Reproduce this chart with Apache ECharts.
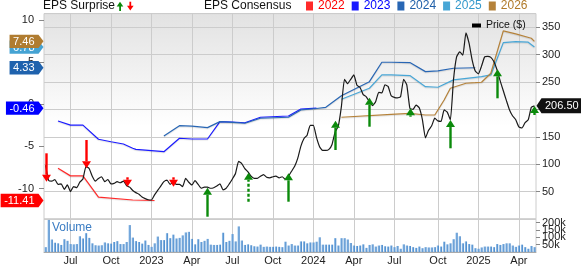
<!DOCTYPE html>
<html><head><meta charset="utf-8">
<script src="https://cdn.jsdelivr.net/npm/echarts@6/dist/echarts.min.js"></script>
<style>html,body{margin:0;padding:0;background:#fff}#c{width:581px;height:266px}</style>
</head><body><div id="c"></div>
<script>
// ---------- data ----------
const startDate = '2022-05-06';
const weekCount = 158;
const quarterDates = ['2022-07-01','2022-10-01','2023-01-01','2023-04-01','2023-07-01','2023-10-01','2024-01-01','2024-04-01','2024-07-01','2024-10-01','2025-01-01','2025-04-01'];
const quarterLabels = ['Jul','Oct','2023','Apr','Jul','Oct','2024','Apr','Jul','Oct','2025','Apr'];

const price = [98,70,69,72,63,64,54,62,50,59,57,67,73,96,92,78,69,74,77,68,
72,64,65,68,66,69,61,58,52,48,45,40,37,35,34.5,44,52,60,68,71,
63,67,63,63,59,74,67,62,70,63,56,58,58,56,57,60,64,53,56,64,
73,83,105,101,92,86,78,74,74,78,81,76,75,77,78,75,77,72,78,87,
96,111,133,147,153,171,171,149,132,125,125,127,136,159,169,205,255,247,255,263,
244,240,227,223,214,207,214,231,230,245,242,225,222,221,223,255,245,202,200,208,
203,182,148,162,170,184,179,178,199,195,181,254,296,305,299,340,321,290,270,265,
279,296,297,295,287,272,252,234,216,199,188,181,168,166,176,181,204,206.5];

const volumeK = [33,218,85,63,59,48,87,76,54,52,54,107,92,128,96,59,46,44,46,65,
59,57,68,74,54,54,68,183,98,74,68,57,78,48,35,59,105,81,81,128,
94,118,92,96,113,133,137,89,52,87,68,76,89,50,48,48,50,131,68,76,
122,72,174,78,48,52,46,39,37,50,35,37,35,35,37,35,33,70,44,54,
44,44,72,72,59,65,65,70,100,50,50,50,50,94,44,94,94,85,61,44,
41,44,52,28,48,52,37,44,48,39,37,44,33,41,22,52,44,41,33,28,
37,26,33,31,31,33,44,37,70,52,59,87,131,107,59,72,54,50,26,22,
31,37,37,37,33,54,48,54,59,59,44,35,44,50,33,22,41,33];

const cons2022Weeks = [4,8,12,17,28,35];
const cons2022 = [-7.59,-8.49,-8.49,-11.0,-11.35,-11.41];
const cons2023Weeks = [4,8,12,17,21,25,28,29,38,43,47,52,56,60,64,69,78,82,87];
const cons2023 = [-1.98,-2.47,-2.47,-4.15,-4.44,-4.71,-5.22,-5.34,-5.62,-4.03,-4.12,-4.12,-2.06,-2.10,-2.19,-1.54,-1.39,-0.56,-0.46];
const cons2024Weeks = [38,43,47,52,56,60,64,69,78,82,87,90,95,104,108,111,117,122,126,131,138];
const cons2024 = [-3.76,-2.54,-2.60,-2.77,-2.06,-2.15,-2.25,-1.66,-1.54,-0.67,-0.50,-0.36,1.0,2.68,4.98,4.98,4.94,3.87,3.95,4.27,4.33];
const cons2025Weeks = [95,104,108,111,117,122,126,131,138,140,143,147,151,155,157];
const cons2025 = [0.59,1.90,3.48,3.48,3.40,2.09,2.02,2.89,3.20,3.27,3.48,7.31,7.43,7.36,6.78];
const cons2026Weeks = [95,111,117,122,125,128,130,135,138,140,143,147,151,156,157];
const cons2026 = [-1.54,-1.19,-1.07,-1.27,-1.27,0.51,1.90,2.49,2.56,2.61,3.68,8.70,8.34,7.83,7.46];

const surpriseWeeks  = [0,13,26,41,52,65,78,93,104,117,130,145,157];
const surpriseFrom   = [119.8,144.1,76,76,4,31.4,31.4,125.8,168.4,186.7,129,220.3,189.8];
const surpriseTo     = [67.9,92.4,58.8,58.8,57,84.4,83.3,179.4,221.4,202,180.6,273.2,206.2];
const surpriseDashed = [0,0,0,0,0,1,0,0,0,0,0,0,0];

const epsTagYears  = ['2022','2023','2024','2025','2026'];
const epsTagValues = [-11.41,-0.46,4.33,6.78,7.46];
const lastPrice = 206.50;

const epsTicks = [-10,-5,0,5,10];

// ---------- styling ----------
const FONT = "'Liberation Sans', Arial, sans-serif";
const yearColors = {'2022':'#ff2a2a','2023':'#1a1aff','2024':'#2866b4','2025':'#48a6d6','2026':'#b5823a'};
const legendColors = {'2022':'#ff0000','2023':'#0000ff','2024':'#1f5fa8','2025':'#3399cc','2026':'#b07a2a'};
const tagColors = {'2022':'#ff0000','2023':'#0000ff','2024':'#1f62ad','2025':'#45a3d3','2026':'#b07c30'};

const DAY = 864e5;
const t0 = Date.parse(startDate + 'T00:00:00Z');
const weeks = [];
for (let i = 0; i < weekCount; i++) weeks.push(new Date(t0 + i * 7 * DAY).toISOString().slice(0, 10));
const labelAt = {};
quarterDates.forEach((d, k) => {
  const idx = Math.round((Date.parse(d + 'T00:00:00Z') - t0) / (7 * DAY));
  labelAt[idx] = quarterLabels[k];
});
const showQ = (i) => labelAt[i] !== undefined;

const ctx = document.createElement('canvas').getContext('2d');
ctx.font = '11px ' + FONT;
const measure = (s) => ctx.measureText(s).width;

const consensus = [
  ['2022', cons2022Weeks, cons2022],
  ['2023', cons2023Weeks, cons2023],
  ['2024', cons2024Weeks, cons2024],
  ['2025', cons2025Weeks, cons2025],
  ['2026', cons2026Weeks, cons2026]
];

const chart = echarts.init(document.getElementById('c'), null, {renderer: 'canvas'});

const xSplit = {show: true, interval: (i) => showQ(i), alignWithLabel: true, lineStyle: {color: '#cccccc', width: 1}};

const series = [];
consensus.forEach(([name, w, v]) => {
  series.push({
    name, type: 'line', xAxisIndex: 0, yAxisIndex: 1,
    data: w.map((wk, k) => [wk, v[k]]),
    showSymbol: false, symbol: 'none', connectNulls: true,
    lineStyle: {color: yearColors[name], width: 1.2, shadowColor: 'rgba(0,0,0,0.12)', shadowOffsetY: 1, shadowBlur: 1},
    itemStyle: {color: yearColors[name]},
    z: 3, silent: true
  });
});
series.push({
  name: 'Price ($)', type: 'line', xAxisIndex: 0, yAxisIndex: 0,
  data: price, showSymbol: false, symbol: 'none', smooth: 0.15,
  lineStyle: {color: '#1a1a1a', width: 1.2},
  itemStyle: {color: '#000'}, z: 4, silent: true
});
series.push({
  name: 'Volume', type: 'bar', xAxisIndex: 1, yAxisIndex: 2,
  data: volumeK.map(v => v * 1000), barWidth: 2.2,
  itemStyle: {color: new echarts.graphic.LinearGradient(0, 0, 1, 0, [{offset: 0, color: '#9ec6ec'}, {offset: 1, color: '#3d80c6'}])},
  silent: true
});
series.push({
  name: 'surprise', type: 'custom', xAxisIndex: 0, yAxisIndex: 0, clip: false, z: 6, silent: true,
  data: surpriseWeeks.map((w, k) => [w, surpriseFrom[k], surpriseTo[k], surpriseDashed[k]]),
  renderItem(params, api) {
    const w = api.value(0), p1 = api.coord([w, api.value(1)]), p2 = api.coord([w, api.value(2)]);
    const up = p2[1] < p1[1];
    const color = up ? '#0b8a0b' : '#ff0000';
    const dir = up ? 1 : -1;
    const x = Math.round(p1[0]) + 0.5;
    const baseY = p2[1] + dir * 7;
    return {type: 'group', children: [
      {type: 'line', shape: {x1: x, y1: p1[1], x2: x, y2: baseY},
       style: {stroke: color, lineWidth: 2.4, lineDash: api.value(3) ? [3, 2] : null}},
      {type: 'polygon', shape: {points: [[x - 4.5, baseY], [x + 4.5, baseY], [x, p2[1]]]}, style: {fill: color}}
    ]};
  }
});
series.push({
  name: 'epsTags', type: 'custom', xAxisIndex: 0, yAxisIndex: 1, clip: false, z: 7, silent: true,
  data: epsTagValues.map((v, k) => [0, v, k]),
  renderItem(params, api) {
    const val = api.value(1);
    const y = api.coord([0, val])[1];
    const txt = val.toFixed(2);
    const w = measure(txt);
    const right = 38.5, tip = 43.5, textRight = 34.5, h = 6.7;
    const left = textRight - w - 3.5;
    const col = tagColors[epsTagYears[api.value(2)]];
    return {type: 'group', children: [
      {type: 'polygon', shape: {points: [[left, y - h], [right, y - h], [tip, y], [right, y + h], [left, y + h]]}, style: {fill: col}},
      {type: 'text', style: {text: txt, x: textRight, y: y + 0.5, align: 'right', verticalAlign: 'middle', fill: '#fff', font: '11px ' + FONT}}
    ]};
  }
});
series.push({
  name: 'priceTag', type: 'custom', xAxisIndex: 0, yAxisIndex: 0, clip: false, z: 7, silent: true,
  data: [[weekCount - 1, lastPrice]],
  renderItem(params, api) {
    const y = api.coord([api.value(0), api.value(1)])[1];
    const tipX = params.coordSys.x + params.coordSys.width + 0.5;
    return {type: 'group', children: [
      {type: 'polygon', shape: {points: [[tipX, y], [tipX + 5, y - 7.5], [582, y - 7.5], [582, y + 7.5], [tipX + 5, y + 7.5]]}, style: {fill: '#111'}},
      {type: 'text', style: {text: api.value(1).toFixed(2), x: tipX + 8.5, y: y + 0.5, align: 'left', verticalAlign: 'middle', fill: '#fff', font: '11px ' + FONT}}
    ]};
  }
});

chart.setOption({
  animation: false,
  backgroundColor: '#fff',
  textStyle: {fontFamily: FONT},
  title: [
    {text: 'EPS Surprise', left: 43, top: 0, padding: 0, textStyle: {fontSize: 12, fontWeight: 'normal', color: '#111', fontFamily: FONT}},
    {text: 'EPS Consensus', left: 204, top: 0, padding: 0, textStyle: {fontSize: 12, fontWeight: 'normal', color: '#111', fontFamily: FONT}}
  ],
  legend: [
    {left: 306, top: 0, padding: 0, itemWidth: 7, itemHeight: 9, itemGap: 7, icon: 'rect', selectedMode: false,
     textStyle: {fontSize: 12, fontFamily: FONT},
     data: ['2022','2023','2024','2025','2026'].map(n => ({name: n, textStyle: {color: legendColors[n]}}))},
    {left: 472, top: 20, padding: 0, itemWidth: 9, itemHeight: 4, icon: 'rect', selectedMode: false,
     textStyle: {fontSize: 10.5, color: '#111', fontFamily: FONT}, data: ['Price ($)']}
  ],
  graphic: [
    {type: 'polygon', shape: {points: [[116.7, 6.5], [123.3, 6.5], [120, 1.7]]}, style: {fill: '#0b8a0b'}},
    {type: 'rect', shape: {x: 119.2, y: 6, width: 1.8, height: 5}, style: {fill: '#0b8a0b'}},
    {type: 'rect', shape: {x: 129.4, y: 1.7, width: 1.8, height: 4.5}, style: {fill: '#ff0000'}},
    {type: 'polygon', shape: {points: [[127, 5.7], [133.6, 5.7], [130.3, 10.5]]}, style: {fill: '#ff0000'}},
    {type: 'text', left: 52, top: 222, style: {text: 'Volume', fill: '#3a7cc3', font: '12px ' + FONT}, z: 10}
  ],
  grid: [
    {left: 44, right: 45, top: 13.6, height: 205.3, show: true, borderColor: '#cccccc', borderWidth: 1,
     backgroundColor: new echarts.graphic.LinearGradient(0, 0, 0, 1, [{offset: 0, color: '#e2e2e2'}, {offset: 0.55, color: '#ffffff'}, {offset: 1, color: '#ffffff'}])},
    {left: 44, right: 45, top: 218.9, height: 34.4, show: true, borderColor: '#cccccc', borderWidth: 1, backgroundColor: '#ffffff'}
  ],
  xAxis: [
    {type: 'category', gridIndex: 0, data: weeks, boundaryGap: true,
     axisLabel: {show: false}, axisTick: {show: false}, axisLine: {show: false}, splitLine: xSplit},
    {type: 'category', gridIndex: 1, data: weeks, boundaryGap: true,
     axisLabel: {interval: (i) => showQ(i), formatter: (v, i) => labelAt[i] || '', fontSize: 11, color: '#222', margin: 3, fontFamily: FONT},
     axisTick: {show: false}, axisLine: {show: true, lineStyle: {color: '#aaaaaa'}}, splitLine: xSplit}
  ],
  yAxis: [
    {type: 'value', gridIndex: 0, position: 'right', min: 0, max: 375, interval: 50,
     axisLabel: {showMinLabel: false, showMaxLabel: false, fontSize: 11, color: '#222', margin: 6, fontFamily: FONT},
     axisTick: {show: true, length: 4, lineStyle: {color: '#888'}}, axisLine: {show: false},
     splitLine: {show: true, lineStyle: {color: '#cccccc'}}},
    {type: 'value', gridIndex: 0, position: 'left', min: -13.59, max: 10.75,
     axisLabel: {customValues: epsTicks, showMinLabel: true, showMaxLabel: true, hideOverlap: false, fontSize: 11, color: '#222', margin: 10, fontFamily: FONT},
     axisTick: {show: true, customValues: epsTicks, length: 5, lineStyle: {color: '#888'}},
     axisLine: {show: false}, splitLine: {show: false}},
    {type: 'value', gridIndex: 1, position: 'right', min: 0, max: 225000, interval: 50000,
     axisLabel: {showMaxLabel: false, fontSize: 11, color: '#222', margin: 6, fontFamily: FONT,
                 formatter: (v) => v === 0 ? '0' : (v / 1000) + 'k'},
     axisTick: {show: true, length: 4, lineStyle: {color: '#888'}}, axisLine: {show: false}, splitLine: {show: false}}
  ],
  series
});
</script></body></html>
